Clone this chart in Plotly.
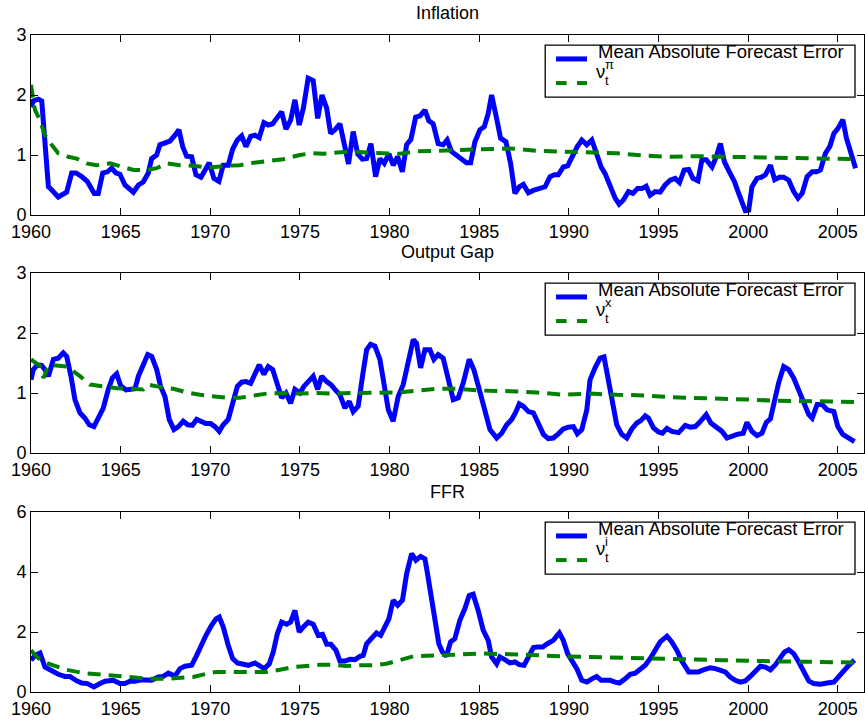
import plotly.graph_objects as go

# ---------------- data ----------------
infl_err_years = [1960.0, 1960.13, 1960.41, 1960.6, 1960.97, 1961.06, 1961.52, 1961.99, 1962.27, 1962.51, 1962.83, 1963.14, 1963.53, 1963.75, 1964.0, 1964.26, 1964.5, 1964.74, 1964.96, 1965.24, 1965.71, 1965.99, 1966.26, 1966.54, 1966.73, 1967.01, 1967.19, 1967.51, 1967.75, 1968.03, 1968.25, 1968.46, 1968.68, 1968.96, 1969.2, 1969.48, 1969.7, 1969.94, 1970.2, 1970.48, 1970.72, 1971.0, 1971.25, 1971.51, 1971.75, 1971.99, 1972.25, 1972.49, 1972.73, 1972.99, 1973.23, 1973.48, 1973.7, 1973.98, 1974.22, 1974.48, 1974.72, 1974.96, 1975.19, 1975.46, 1975.74, 1975.99, 1976.23, 1976.49, 1976.71, 1976.95, 1977.23, 1977.47, 1977.71, 1977.97, 1978.22, 1978.48, 1978.72, 1978.96, 1979.22, 1979.46, 1979.7, 1979.96, 1980.2, 1980.45, 1980.71, 1980.95, 1981.19, 1981.45, 1981.69, 1981.97, 1982.19, 1982.43, 1982.71, 1982.99, 1983.21, 1983.45, 1983.73, 1984.01, 1984.29, 1984.52, 1984.76, 1985.04, 1985.28, 1985.5, 1985.69, 1985.97, 1986.19, 1986.49, 1986.75, 1986.99, 1987.23, 1987.46, 1987.74, 1988.02, 1988.3, 1988.67, 1988.95, 1989.19, 1989.41, 1989.69, 1989.93, 1990.21, 1990.47, 1990.72, 1991.0, 1991.28, 1991.55, 1991.8, 1992.02, 1992.3, 1992.58, 1992.8, 1993.04, 1993.32, 1993.57, 1993.83, 1994.07, 1994.31, 1994.53, 1994.81, 1995.09, 1995.37, 1995.65, 1995.93, 1996.17, 1996.43, 1996.68, 1996.92, 1997.2, 1997.42, 1997.66, 1997.98, 1998.22, 1998.45, 1998.67, 1998.95, 1999.23, 1999.47, 1999.69, 1999.84, 2000.03, 2000.21, 2000.49, 2000.74, 2000.96, 2001.24, 2001.48, 2001.74, 2001.98, 2002.26, 2002.54, 2002.78, 2003.01, 2003.29, 2003.57, 2003.81, 2004.03, 2004.31, 2004.55, 2004.78, 2005.0, 2005.28, 2005.48, 2005.74, 2005.99]
infl_err = [1.8, 1.9, 1.93, 1.9, 0.47, 0.45, 0.3, 0.38, 0.7, 0.7, 0.64, 0.56, 0.36, 0.36, 0.7, 0.72, 0.78, 0.7, 0.68, 0.5, 0.38, 0.5, 0.55, 0.7, 0.94, 1.0, 1.17, 1.2, 1.23, 1.33, 1.42, 1.14, 0.98, 0.97, 0.67, 0.63, 0.75, 0.87, 0.61, 0.56, 0.83, 0.83, 1.1, 1.25, 1.32, 1.14, 1.31, 1.33, 1.29, 1.54, 1.5, 1.52, 1.61, 1.72, 1.43, 1.58, 1.92, 1.5, 1.78, 2.28, 2.24, 1.61, 2.0, 1.78, 1.36, 1.42, 1.52, 1.14, 0.85, 1.39, 1.02, 0.93, 0.94, 1.19, 0.64, 0.94, 0.86, 1.02, 0.83, 0.97, 0.72, 1.17, 1.26, 1.63, 1.65, 1.75, 1.57, 1.52, 1.19, 1.17, 1.25, 1.06, 1.0, 0.94, 0.87, 0.87, 1.22, 1.42, 1.47, 1.69, 2.0, 1.61, 1.28, 1.22, 0.86, 0.36, 0.47, 0.51, 0.37, 0.41, 0.44, 0.47, 0.64, 0.67, 0.67, 0.8, 0.82, 1.0, 1.14, 1.25, 1.17, 1.25, 1.03, 0.8, 0.69, 0.47, 0.28, 0.18, 0.25, 0.39, 0.36, 0.44, 0.44, 0.48, 0.33, 0.39, 0.38, 0.5, 0.58, 0.61, 0.54, 0.75, 0.76, 0.61, 0.57, 0.92, 0.92, 0.8, 0.97, 1.19, 0.89, 0.72, 0.56, 0.36, 0.17, 0.07, 0.08, 0.47, 0.61, 0.63, 0.67, 0.83, 0.59, 0.63, 0.63, 0.58, 0.39, 0.28, 0.36, 0.64, 0.72, 0.72, 0.75, 1.03, 1.14, 1.36, 1.44, 1.59, 1.28, 1.03, 0.78]

infl_nu_years = [1960.0, 1960.22, 1960.5, 1960.78, 1961.15, 1961.52, 1962.08, 1962.55, 1963.1, 1963.66, 1964.41, 1964.96, 1965.71, 1966.45, 1967.01, 1967.57, 1968.31, 1969.05, 1969.98, 1970.91, 1971.65, 1972.4, 1973.14, 1974.07, 1975.0, 1975.65, 1976.3, 1977.04, 1977.79, 1978.72, 1979.65, 1980.58, 1981.51, 1982.62, 1983.73, 1985.22, 1986.71, 1988.2, 1989.69, 1991.18, 1992.67, 1994.16, 1995.65, 1997.14, 1998.63, 2000.12, 2001.61, 2003.1, 2004.59, 2005.99]
infl_nu = [2.17, 1.75, 1.58, 1.33, 1.17, 1.03, 0.97, 0.94, 0.86, 0.83, 0.86, 0.81, 0.75, 0.75, 0.78, 0.86, 0.83, 0.82, 0.79, 0.82, 0.83, 0.87, 0.9, 0.93, 1.0, 1.03, 1.02, 1.04, 1.06, 1.04, 1.03, 1.02, 1.06, 1.07, 1.08, 1.1, 1.11, 1.07, 1.06, 1.04, 1.03, 0.99, 0.97, 0.98, 0.97, 0.96, 0.96, 0.94, 0.94, 0.93]

gap_err_years = [1960.0, 1960.13, 1960.35, 1960.59, 1960.78, 1960.97, 1961.25, 1961.52, 1961.8, 1961.99, 1962.23, 1962.45, 1962.73, 1963.01, 1963.25, 1963.51, 1963.75, 1964.03, 1964.31, 1964.54, 1964.78, 1965.0, 1965.3, 1965.61, 1965.8, 1965.99, 1966.26, 1966.51, 1966.73, 1967.01, 1967.23, 1967.47, 1967.71, 1967.97, 1968.22, 1968.49, 1968.74, 1969.0, 1969.24, 1969.52, 1969.76, 1970.02, 1970.26, 1970.5, 1970.72, 1971.0, 1971.28, 1971.51, 1971.75, 1971.99, 1972.25, 1972.49, 1972.73, 1972.99, 1973.23, 1973.48, 1973.7, 1973.98, 1974.22, 1974.48, 1974.72, 1975.0, 1975.22, 1975.46, 1975.74, 1975.99, 1976.21, 1976.49, 1976.73, 1976.95, 1977.23, 1977.51, 1977.75, 1977.97, 1978.25, 1978.49, 1978.72, 1978.94, 1979.18, 1979.46, 1979.65, 1979.93, 1980.2, 1980.48, 1980.76, 1981.04, 1981.32, 1981.5, 1981.73, 1981.97, 1982.25, 1982.47, 1982.71, 1982.99, 1983.27, 1983.55, 1983.83, 1984.11, 1984.44, 1984.7, 1985.0, 1985.32, 1985.6, 1985.97, 1986.25, 1986.53, 1986.81, 1987.05, 1987.23, 1987.46, 1987.74, 1988.02, 1988.3, 1988.58, 1988.85, 1989.13, 1989.41, 1989.69, 1989.97, 1990.25, 1990.47, 1990.72, 1991.0, 1991.18, 1991.46, 1991.74, 1991.96, 1992.21, 1992.45, 1992.67, 1992.95, 1993.23, 1993.51, 1993.79, 1994.01, 1994.26, 1994.44, 1994.72, 1995.0, 1995.22, 1995.47, 1995.74, 1996.12, 1996.49, 1996.77, 1997.05, 1997.29, 1997.66, 1997.92, 1998.22, 1998.54, 1998.82, 1999.1, 1999.38, 1999.72, 1999.93, 2000.21, 2000.49, 2000.77, 2001.01, 2001.24, 2001.42, 2001.7, 2001.98, 2002.26, 2002.54, 2002.82, 2003.1, 2003.38, 2003.57, 2003.85, 2004.12, 2004.4, 2004.78, 2005.0, 2005.28, 2005.61, 2005.93]
gap_err = [1.22, 1.39, 1.47, 1.46, 1.39, 1.28, 1.56, 1.58, 1.67, 1.61, 1.28, 0.89, 0.67, 0.58, 0.47, 0.44, 0.58, 0.75, 1.06, 1.25, 1.32, 1.12, 1.05, 1.05, 1.07, 1.28, 1.47, 1.64, 1.61, 1.39, 1.11, 0.94, 0.56, 0.39, 0.44, 0.53, 0.47, 0.46, 0.56, 0.51, 0.49, 0.49, 0.44, 0.36, 0.47, 0.56, 0.89, 1.11, 1.18, 1.19, 1.16, 1.31, 1.47, 1.31, 1.44, 1.39, 1.17, 0.92, 1.0, 0.83, 1.06, 1.0, 1.11, 1.19, 1.28, 1.06, 1.28, 1.19, 1.14, 1.06, 0.97, 0.75, 0.86, 0.69, 0.78, 1.28, 1.72, 1.81, 1.78, 1.56, 1.22, 0.72, 0.53, 0.94, 1.14, 1.56, 1.89, 1.83, 1.42, 1.72, 1.72, 1.56, 1.64, 1.58, 1.22, 0.89, 0.92, 1.17, 1.56, 1.39, 1.06, 0.69, 0.39, 0.25, 0.33, 0.47, 0.56, 0.69, 0.82, 0.78, 0.69, 0.67, 0.47, 0.31, 0.24, 0.25, 0.32, 0.4, 0.43, 0.44, 0.32, 0.39, 0.72, 1.22, 1.42, 1.58, 1.6, 1.22, 0.81, 0.47, 0.31, 0.25, 0.4, 0.5, 0.54, 0.62, 0.58, 0.42, 0.35, 0.33, 0.41, 0.36, 0.34, 0.46, 0.43, 0.44, 0.51, 0.64, 0.5, 0.44, 0.36, 0.25, 0.29, 0.31, 0.33, 0.51, 0.36, 0.29, 0.33, 0.51, 0.57, 0.81, 1.17, 1.44, 1.39, 1.25, 1.06, 0.83, 0.64, 0.58, 0.81, 0.81, 0.72, 0.69, 0.44, 0.31, 0.25, 0.19]

gap_nu_years = [1960.0, 1960.32, 1960.5, 1960.7, 1960.9, 1961.06, 1961.99, 1962.73, 1963.29, 1964.03, 1964.78, 1965.52, 1966.26, 1966.54, 1967.01, 1967.94, 1968.68, 1969.42, 1970.17, 1970.91, 1971.65, 1972.4, 1973.14, 1974.07, 1975.0, 1975.93, 1976.86, 1977.79, 1978.72, 1979.65, 1980.58, 1981.51, 1982.62, 1983.73, 1985.22, 1986.71, 1988.2, 1989.69, 1991.18, 1992.67, 1994.16, 1995.65, 1997.14, 1998.63, 2000.12, 2001.61, 2003.1, 2004.59, 2005.99]
gap_nu = [1.56, 1.5, 1.45, 1.25, 1.4, 1.47, 1.44, 1.28, 1.14, 1.11, 1.08, 1.07, 1.06, 1.14, 1.11, 1.07, 1.01, 0.97, 0.94, 0.92, 0.92, 0.96, 0.99, 1.0, 0.99, 1.0, 0.99, 1.0, 1.0, 1.0, 1.01, 1.04, 1.07, 1.07, 1.04, 1.03, 1.01, 0.97, 0.99, 0.97, 0.96, 0.93, 0.92, 0.9, 0.89, 0.87, 0.87, 0.86, 0.85]

ffr_err_years = [1960.0, 1960.22, 1960.5, 1960.78, 1961.06, 1961.52, 1961.9, 1962.17, 1962.55, 1962.83, 1963.14, 1963.51, 1963.85, 1964.13, 1964.59, 1964.96, 1965.24, 1965.52, 1965.8, 1966.17, 1966.73, 1967.1, 1967.38, 1967.66, 1968.03, 1968.31, 1968.59, 1968.96, 1969.24, 1969.52, 1969.76, 1970.07, 1970.32, 1970.5, 1970.72, 1971.0, 1971.25, 1971.51, 1971.84, 1972.12, 1972.49, 1972.77, 1973.01, 1973.29, 1973.51, 1973.74, 1973.98, 1974.26, 1974.48, 1974.72, 1974.96, 1975.19, 1975.46, 1975.74, 1976.02, 1976.26, 1976.49, 1976.73, 1977.01, 1977.23, 1977.51, 1977.79, 1978.07, 1978.35, 1978.53, 1978.72, 1979.0, 1979.27, 1979.5, 1979.74, 1979.96, 1980.2, 1980.45, 1980.72, 1980.95, 1981.23, 1981.47, 1981.73, 1981.97, 1982.1, 1982.25, 1982.4, 1982.55, 1982.75, 1982.95, 1983.17, 1983.4, 1983.64, 1983.92, 1984.2, 1984.44, 1984.66, 1984.94, 1985.22, 1985.5, 1985.69, 1985.97, 1986.15, 1986.43, 1986.71, 1986.99, 1987.23, 1987.5, 1987.74, 1988.02, 1988.24, 1988.54, 1988.8, 1989.13, 1989.47, 1989.69, 1989.93, 1990.16, 1990.44, 1990.72, 1991.0, 1991.28, 1991.55, 1991.8, 1992.08, 1992.3, 1992.58, 1992.82, 1993.14, 1993.42, 1993.7, 1993.98, 1994.26, 1994.53, 1994.81, 1995.09, 1995.47, 1995.74, 1996.02, 1996.3, 1996.68, 1996.96, 1997.23, 1997.51, 1997.89, 1998.17, 1998.45, 1998.72, 1999.0, 1999.28, 1999.56, 1999.84, 2000.12, 2000.4, 2000.68, 2000.96, 2001.24, 2001.52, 2001.8, 2002.02, 2002.26, 2002.54, 2002.82, 2003.1, 2003.38, 2003.66, 2004.03, 2004.4, 2004.78, 2005.06, 2005.34, 2005.61, 2005.93]
ffr_err = [1.06, 1.22, 1.3, 0.83, 0.74, 0.59, 0.52, 0.52, 0.37, 0.3, 0.28, 0.17, 0.28, 0.36, 0.39, 0.28, 0.28, 0.36, 0.36, 0.41, 0.39, 0.5, 0.52, 0.63, 0.53, 0.78, 0.86, 0.89, 1.22, 1.61, 1.89, 2.22, 2.44, 2.5, 2.17, 1.56, 1.11, 0.97, 0.92, 0.89, 0.97, 0.89, 0.78, 0.94, 1.33, 1.94, 2.33, 2.26, 2.33, 2.72, 2.0, 2.17, 2.33, 2.26, 1.89, 1.92, 1.59, 1.59, 1.39, 1.03, 1.03, 1.09, 1.08, 1.19, 1.22, 1.61, 1.78, 1.97, 1.89, 2.22, 2.44, 3.06, 2.89, 3.06, 3.94, 4.61, 4.39, 4.52, 4.44, 4.0, 3.4, 2.8, 2.2, 1.6, 1.33, 1.19, 1.67, 1.78, 2.39, 2.78, 3.22, 3.26, 2.72, 2.06, 1.72, 1.17, 0.94, 1.17, 1.08, 0.97, 1.0, 0.91, 0.89, 1.17, 1.48, 1.5, 1.5, 1.61, 1.72, 1.97, 1.72, 1.28, 1.08, 0.78, 0.39, 0.33, 0.44, 0.52, 0.39, 0.41, 0.39, 0.33, 0.3, 0.44, 0.59, 0.63, 0.74, 0.89, 1.11, 1.37, 1.67, 1.86, 1.67, 1.39, 1.03, 0.67, 0.67, 0.67, 0.74, 0.81, 0.78, 0.72, 0.67, 0.5, 0.39, 0.33, 0.37, 0.52, 0.72, 0.86, 0.83, 0.74, 0.91, 1.17, 1.33, 1.41, 1.28, 1.0, 0.67, 0.37, 0.28, 0.26, 0.3, 0.33, 0.52, 0.72, 0.89, 1.06]

ffr_nu_years = [1960.0, 1960.32, 1960.69, 1961.25, 1961.99, 1962.92, 1963.85, 1964.78, 1965.71, 1966.64, 1967.57, 1968.31, 1969.05, 1969.79, 1970.35, 1971.28, 1972.21, 1973.14, 1973.88, 1974.63, 1975.37, 1976.12, 1976.86, 1977.6, 1978.35, 1979.09, 1979.83, 1980.58, 1981.32, 1982.06, 1982.8, 1983.73, 1985.22, 1986.71, 1988.2, 1989.69, 1991.18, 1992.67, 1994.16, 1995.65, 1997.14, 1998.63, 2000.12, 2001.61, 2003.1, 2004.59, 2005.99]
ffr_nu = [1.39, 1.17, 1.0, 0.89, 0.74, 0.63, 0.59, 0.52, 0.48, 0.44, 0.44, 0.48, 0.5, 0.61, 0.67, 0.67, 0.67, 0.67, 0.74, 0.83, 0.87, 0.91, 0.91, 0.87, 0.89, 0.89, 0.94, 1.06, 1.19, 1.21, 1.22, 1.26, 1.28, 1.26, 1.21, 1.19, 1.17, 1.14, 1.11, 1.08, 1.08, 1.06, 1.03, 1.02, 1.01, 1.0, 0.98]

panel_titles = ["Inflation", "Output Gap", "FFR"]
legend_label = "Mean Absolute Forecast Error"
nu_superscripts = ["π", "x", "i"]
x_ticks = [1960, 1965, 1970, 1975, 1980, 1985, 1990, 1995, 2000, 2005]
y_ticks = [[0, 1, 2, 3], [0, 1, 2, 3], [0, 2, 4, 6]]
y_ranges = [[0, 3], [0, 3], [0, 6]]

# ---------------- figure ----------------
W, H = 865, 724
BLUE = "#0000ff"
GREEN = "#008000"
FONT = "Liberation Sans, Arial, Helvetica, sans-serif"

panels_px = [(35, 215), (273, 453), (512, 692)]  # top, bottom in pixels
title_px = [13, 252, 492]

series = [
    (infl_err_years, infl_err, infl_nu_years, infl_nu),
    (gap_err_years, gap_err, gap_nu_years, gap_nu),
    (ffr_err_years, ffr_err, ffr_nu_years, ffr_nu),
]

fig = go.Figure()
shapes = []
annotations = []

for i, (ex, ey, nx, ny) in enumerate(series):
    n = "" if i == 0 else str(i + 1)
    xa, ya = "x" + n, "y" + n
    fig.add_trace(go.Scatter(x=ex, y=ey, mode="lines", xaxis=xa, yaxis=ya,
                             line=dict(color=BLUE, width=5), showlegend=False,
                             name=legend_label))
    fig.add_trace(go.Scatter(x=nx, y=ny, mode="lines", xaxis=xa, yaxis=ya,
                             line=dict(color=GREEN, width=4, dash="13px,8px"),
                             showlegend=False, name="nu"))
    top, bot = panels_px[i]
    dom = [1 - bot / H, 1 - top / H]
    axis_common = dict(showline=True, linecolor="black", linewidth=1, mirror="allticks",
                       ticks="inside", ticklen=7, tickwidth=1, tickcolor="black",
                       showgrid=False, zeroline=False, automargin=False,
                       tickfont=dict(family=FONT, size=18, color="black"))
    fig.layout["xaxis" + n] = dict(domain=[0, 1], range=[1960, 2006.46], anchor=ya,
                                   tickvals=x_ticks, ticktext=[str(t) for t in x_ticks],
                                   **axis_common)
    fig.layout["yaxis" + n] = dict(domain=dom, range=y_ranges[i], anchor=xa,
                                   tickvals=y_ticks[i], ticktext=[str(t) for t in y_ticks[i]],
                                   **axis_common)
    # title
    annotations.append(dict(text=panel_titles[i], xref="paper", yref="paper",
                            x=0.5, y=1 - title_px[i] / H, showarrow=False,
                            xanchor="center", yanchor="middle",
                            font=dict(family=FONT, size=18, color="black")))
    # legend box
    xd, yd = xa + " domain", ya + " domain"
    shapes.append(dict(type="rect", xref=xd, yref=yd, x0=0.6173, x1=0.9892,
                       y0=0.655, y1=0.944, line=dict(color="black", width=1.3),
                       fillcolor="white", layer="above"))
    shapes.append(dict(type="line", xref=xd, yref=yd, x0=0.6303, x1=0.6675,
                       y0=0.867, y1=0.867, line=dict(color=BLUE, width=5), layer="above"))
    shapes.append(dict(type="line", xref=xd, yref=yd, x0=0.6303, x1=0.6430,
                       y0=0.733, y1=0.733, line=dict(color=GREEN, width=4), layer="above"))
    shapes.append(dict(type="line", xref=xd, yref=yd, x0=0.6555, x1=0.6675,
                       y0=0.733, y1=0.733, line=dict(color=GREEN, width=4), layer="above"))
    annotations.append(dict(text=legend_label, xref=xd, yref=yd, x=0.679, y=0.91,
                            showarrow=False, xanchor="left", yanchor="middle",
                            borderpad=0,
                            font=dict(family=FONT, size=18.5, color="black")))
    annotations.append(dict(text="ν", xref=xd, yref=yd, x=0.6765, y=0.80,
                            showarrow=False, xanchor="left", yanchor="middle",
                            borderpad=0,
                            font=dict(family=FONT, size=18.5, color="black")))
    annotations.append(dict(text=nu_superscripts[i], xref=xd, yref=yd, x=0.6875, y=0.835,
                            showarrow=False, xanchor="left", yanchor="middle",
                            borderpad=0,
                            font=dict(family=FONT, size=13, color="black")))
    annotations.append(dict(text="t", xref=xd, yref=yd, x=0.6875, y=0.745,
                            showarrow=False, xanchor="left", yanchor="middle",
                            borderpad=0,
                            font=dict(family=FONT, size=13, color="black")))

fig.update_layout(width=W, height=H, margin=dict(l=31, r=1, t=0, b=0, autoexpand=False),
                  paper_bgcolor="white", plot_bgcolor="white",
                  shapes=shapes, annotations=annotations, showlegend=False,
                  font=dict(family=FONT, color="black"))

fig.write_html("out.html")
